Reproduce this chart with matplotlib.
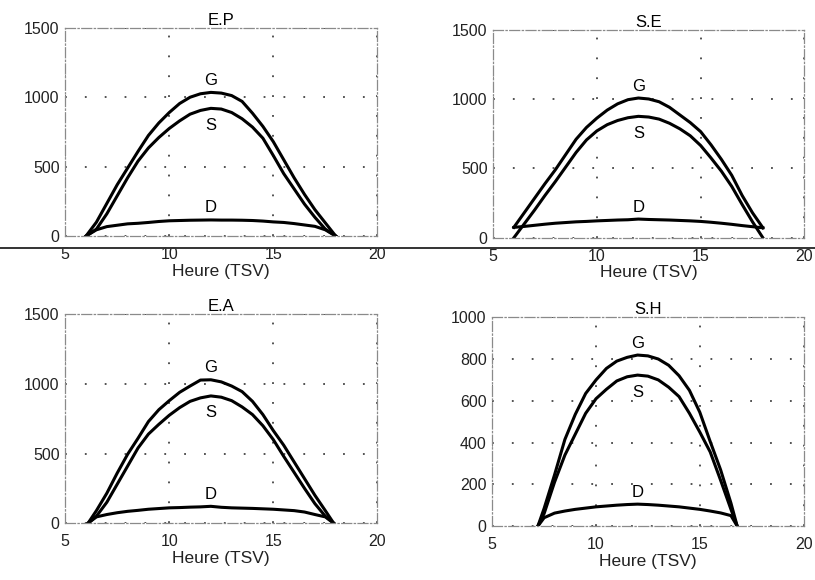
import matplotlib
matplotlib.use("Agg")
import matplotlib.pyplot as plt
from matplotlib.lines import Line2D

plt.rcParams['font.family'] = ['Liberation Sans', 'DejaVu Sans']

# E.P
ep_hours = [6, 6.5, 7, 7.5, 8, 8.5, 9, 9.5, 10, 10.5, 11, 11.5, 12,
            12.5, 13, 13.5, 14, 14.5, 15, 15.5, 16, 16.5, 17, 17.5, 18]
ep_G = [0, 100, 235, 370, 490, 610, 725, 815, 890, 955, 1000, 1025, 1035,
        1030, 1012, 970, 885, 790, 680, 550, 420, 300, 190, 95, 0]
ep_S = [0, 50, 160, 290, 420, 540, 635, 710, 775, 830, 878, 905, 920,
        915, 890, 845, 785, 705, 580, 450, 340, 230, 135, 50, 0]
ep_D = [0, 45, 68, 78, 88, 92, 98, 105, 110, 112, 114, 115, 116,
        115, 115, 114, 112, 108, 102, 98, 90, 80, 70, 45, 0]

# S.E
se_hours = [6, 6.5, 7, 7.5, 8, 8.5, 9, 9.5, 10, 10.5, 11, 11.5, 12,
            12.5, 13, 13.5, 14, 14.5, 15, 15.5, 16, 16.5, 17, 17.5, 18]
se_G = [75, 180, 285, 390, 490, 600, 710, 795, 862, 920, 965, 995, 1007,
        1000, 980, 940, 885, 830, 765, 670, 565, 450, 305, 180, 72]
se_S = [0, 100, 200, 305, 405, 510, 615, 705, 770, 815, 845, 865, 875,
        870, 855, 825, 785, 735, 665, 575, 480, 370, 240, 115, 0]
se_D = [75, 82, 90, 98, 105, 110, 115, 118, 122, 125, 128, 130, 135,
        132, 130, 128, 125, 122, 118, 112, 105, 97, 88, 80, 72]

# E.A
ea_hours = [6.1, 6.5, 7, 7.5, 8, 8.5, 9, 9.5, 10, 10.5, 11, 11.5, 12,
            12.5, 13, 13.5, 14, 14.5, 15, 15.5, 16, 16.5, 17, 17.5, 17.9]
ea_G = [0, 90, 215, 360, 495, 610, 730, 815, 880, 940, 985, 1028, 1030,
        1015, 985, 945, 875, 780, 665, 560, 440, 320, 200, 90, 0]
ea_S = [0, 50, 150, 280, 410, 540, 640, 710, 775, 830, 875, 900, 914,
        905, 880, 835, 780, 700, 600, 480, 365, 250, 140, 50, 0]
ea_D = [0, 45, 62, 75, 85, 92, 100, 105, 110, 112, 115, 117, 121,
        114, 110, 108, 106, 103, 100, 95, 90, 80, 62, 45, 0]

# S.H
sh_hours = [7.2, 7.5, 8, 8.5, 9, 9.5, 10, 10.5, 11, 11.5, 12,
            12.5, 13, 13.5, 14, 14.5, 15, 15.5, 16, 16.5, 16.8]
sh_G = [0, 85, 245, 415, 535, 635, 700, 755, 790, 808, 819,
        815, 800, 770, 720, 650, 545, 405, 270, 110, 0]
sh_S = [0, 60, 210, 340, 440, 540, 610, 655, 695, 715, 723,
        718, 700, 665, 620, 540, 450, 355, 220, 80, 0]
sh_D = [0, 40, 62, 72, 80, 86, 92, 96, 100, 103, 105,
        103, 100, 96, 92, 86, 80, 72, 63, 50, 0]

xticks = [5, 10, 15, 20]
xlabel = "Heure (TSV)"


def draw_panel(ax, title, hours, G, S, D, ymax, yticks):
    ax.set_xlim(5, 20)
    ax.set_ylim(0, ymax)
    ax.set_xticks(xticks)
    ax.set_yticks(yticks)
    ax.grid(True, color='#444444', linestyle=(0, (1, 10)), linewidth=1.3)
    for sp in ax.spines.values():
        sp.set_linestyle((0, (8, 2, 1, 2)))
        sp.set_color('#8a8a8a')
        sp.set_linewidth(0.9)
    ax.tick_params(length=0, labelsize=11.5, colors='#222222')
    ax.tick_params(axis='x', pad=8)
    ax.tick_params(axis='y', pad=4)
    for serie in (G, S, D):
        ax.plot(hours, serie, color='black', lw=2.2, solid_joinstyle='round')
    ig = G.index(max(G))
    i_s = S.index(max(S))
    idd = D.index(max(D))
    ax.annotate('G', (hours[ig], G[ig]), xytext=(0, 12), textcoords='offset pixels',
                ha='center', va='center', fontsize=12)
    ax.annotate('S', (hours[i_s], S[i_s]), xytext=(0, -17), textcoords='offset pixels',
                ha='center', va='center', fontsize=12)
    ax.annotate('D', (hours[idd], D[idd]), xytext=(0, 12), textcoords='offset pixels',
                ha='center', va='center', fontsize=12)
    ax.set_title(title, fontsize=12, pad=2)
    ax.set_xlabel(xlabel, fontsize=12.5, labelpad=1, color='#222222')


fig = plt.figure(figsize=(8.15, 5.8), dpi=100)
ax1 = fig.add_axes([0.080, 0.593, 0.383, 0.359])
ax2 = fig.add_axes([0.605, 0.590, 0.382, 0.359])
ax3 = fig.add_axes([0.080, 0.098, 0.383, 0.360])
ax4 = fig.add_axes([0.604, 0.093, 0.382, 0.360])

draw_panel(ax1, "E.P", ep_hours, ep_G, ep_S, ep_D, 1500, [0, 500, 1000, 1500])
draw_panel(ax2, "S.E", se_hours, se_G, se_S, se_D, 1500, [0, 500, 1000, 1500])
draw_panel(ax3, "E.A", ea_hours, ea_G, ea_S, ea_D, 1500, [0, 500, 1000, 1500])
draw_panel(ax4, "S.H", sh_hours, sh_G, sh_S, sh_D, 1000, [0, 200, 400, 600, 800, 1000])

# scan rule across the page
fig.add_artist(Line2D([0, 1], [1 - 248 / 580, 1 - 248 / 580], transform=fig.transFigure,
                      color='#333333', lw=1.4))

fig.savefig("out.png", dpi=100)
